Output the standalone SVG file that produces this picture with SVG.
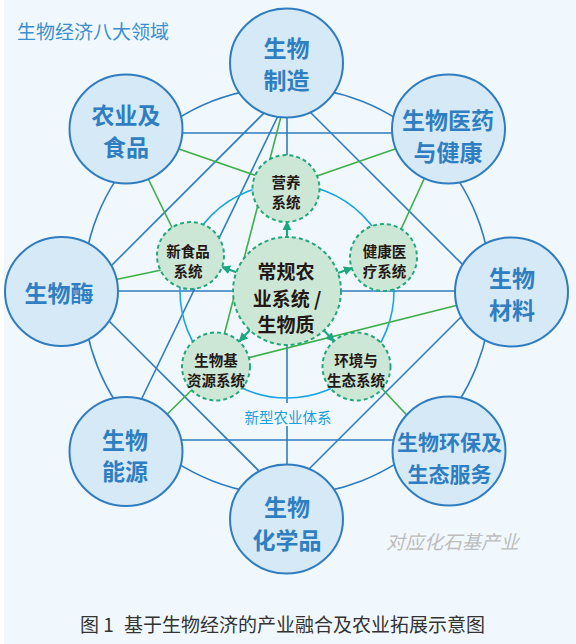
<svg xmlns="http://www.w3.org/2000/svg" width="576" height="644" viewBox="0 0 576 644">
<style>
text{font-family:"Noto Sans CJK SC","Noto Sans",sans-serif;dominant-baseline:central;text-anchor:middle}
.bl{stroke:#2F7DC0;stroke-width:1.6;fill:none}
.gr{stroke:#3DAF4A;stroke-width:1.6;fill:none}
.cy{stroke:#1AA5E2;stroke-width:1.6;fill:none}
.on{fill:#D6E9F6;stroke:#2F7DC0;stroke-width:2}
.ot{fill:#2F7EC1;font-size:23px;font-weight:bold}
.in{fill:#CDE7D6;stroke:#25A77B;stroke-width:2;stroke-dasharray:4 3}
.it{fill:#231815;font-size:14.5px;font-weight:bold}
.ar{stroke:#1BA880;stroke-width:2.2;fill:none;marker-end:url(#ah)}
</style>
<defs>
<marker id="ah" viewBox="0 0 10 10" refX="9" refY="5" markerUnits="userSpaceOnUse" markerWidth="9" markerHeight="9" orient="auto">
<path d="M0,0 L10,5 L0,10 z" fill="#1BA880"/>
</marker>
</defs>
<rect x="0" y="0" width="576" height="644" fill="#FFFFFF"/>
<rect x="4" y="0" width="572" height="644" fill="#F1F8FD"/>
<circle cx="287" cy="291" r="204" fill="#FFFFFF" class="bl" stroke-width="1.8"/>
<text x="17" y="30.5" style="text-anchor:start;font-size:19px;fill:#3A8FD0">生物经济八大领域</text>
<g id="connectors">
<line class="bl" x1="126" y1="133" x2="448" y2="133"/>
<line class="bl" x1="61" y1="291" x2="512" y2="291"/>
<line class="bl" x1="126" y1="440" x2="449" y2="440"/>
<line class="bl" x1="287" y1="63" x2="287" y2="403"/>
<line class="bl" x1="287" y1="426" x2="287" y2="519"/>
<line class="bl" x1="60" y1="317" x2="287" y2="90"/>
<line class="bl" x1="287" y1="89" x2="514" y2="316"/>
<line class="bl" x1="500" y1="278" x2="290" y2="488"/>
<line class="bl" x1="70" y1="282" x2="280" y2="492"/>
<line class="bl" x1="290.5" y1="90" x2="126.6" y2="430"/>
<circle class="cy" cx="287" cy="291" r="107"/>
<line class="gr" x1="150" y1="139" x2="286" y2="186"/>
<line class="gr" x1="424" y1="139" x2="288" y2="186"/>
<line class="gr" x1="135" y1="152" x2="187" y2="258"/>
<line class="gr" x1="436" y1="153" x2="386" y2="262"/>
<line class="gr" x1="90" y1="285" x2="190" y2="264"/>
<line class="gr" x1="284" y1="105" x2="216" y2="366"/>
<line class="gr" x1="490" y1="297" x2="216" y2="366"/>
<line class="gr" x1="140" y1="441" x2="216" y2="366"/>
<line class="gr" x1="357" y1="362" x2="432" y2="442"/>
<line class="ar" x1="287" y1="238" x2="287" y2="222"/>
<line class="ar" x1="236.4" y1="272.2" x2="222" y2="267"/>
<line class="ar" x1="338" y1="273" x2="352" y2="268"/>
<line class="ar" x1="250" y1="330" x2="239.4" y2="341.3"/>
<line class="ar" x1="324" y1="330.5" x2="334" y2="341.3"/>
</g>
<text x="288" y="416.5" style="font-size:14.5px;fill:#1AA0DE">新型农业体系</text>
<g id="n-zhizao"><ellipse class="on" cx="286.5" cy="63" rx="56.5" ry="54.5"/><text class="ot" x="286.5" y="47">生物</text><text class="ot" x="286.5" y="79">制造</text></g>
<g id="n-nongye"><ellipse class="on" cx="126" cy="129" rx="56.5" ry="54.5"/><text class="ot" x="126" y="114">农业及</text><text class="ot" x="126" y="146">食品</text></g>
<g id="n-yiyao"><ellipse class="on" cx="448.5" cy="129" rx="56.5" ry="54.5"/><text class="ot" x="448" y="118.5">生物医药</text><text class="ot" x="448" y="151">与健康</text></g>
<g id="n-mei"><ellipse class="on" cx="61.5" cy="291.5" rx="56.5" ry="54.5"/><text class="ot" x="59" y="291.5">生物酶</text></g>
<g id="n-cailiao"><ellipse class="on" cx="511.5" cy="292" rx="56.5" ry="54.5"/><text class="ot" x="512" y="276.5">生物</text><text class="ot" x="512" y="308.5">材料</text></g>
<g id="n-nengyuan"><ellipse class="on" cx="126" cy="451.5" rx="56.5" ry="54.5"/><text class="ot" x="125" y="438.5">生物</text><text class="ot" x="125" y="470">能源</text></g>
<g id="n-huaxue"><ellipse class="on" cx="286.5" cy="519" rx="56.5" ry="54.5"/><text class="ot" x="287" y="506">生物</text><text class="ot" x="287" y="538.5">化学品</text></g>
<g id="n-huanbao"><ellipse class="on" cx="449" cy="451" rx="56.5" ry="54.5"/><text class="ot" x="449.5" y="441" style="font-size:21px">生物环保及</text><text class="ot" x="449.5" y="473" style="font-size:21px">生态服务</text></g>
<g id="n-center"><circle class="in" cx="287" cy="291" r="54"/><text class="it" style="font-size:19px" x="286" y="270.5">常规农</text><text class="it" style="font-size:19px" x="287" y="297">业系统 /</text><text class="it" style="font-size:19px" x="286" y="323.5">生物质</text></g>
<g id="n-yingyang"><circle class="in" cx="286" cy="188.5" r="33.5"/><text class="it" x="286" y="181.5">营养</text><text class="it" x="286" y="201.5">系统</text></g>
<g id="n-xinshipin"><circle class="in" cx="190.5" cy="255.5" r="33.5"/><text class="it" x="188" y="250">新食品</text><text class="it" x="188" y="270">系统</text></g>
<g id="n-jiankang"><circle class="in" cx="383.5" cy="257.5" r="33.5"/><text class="it" x="384.5" y="250">健康医</text><text class="it" x="384.5" y="270">疗系统</text></g>
<g id="n-shengwuji"><circle class="in" cx="216" cy="366.5" r="34"/><text class="it" x="216" y="359">生物基</text><text class="it" x="216" y="379">资源系统</text></g>
<g id="n-huanjing"><circle class="in" cx="356.5" cy="366.5" r="34"/><text class="it" x="356" y="359.5">环境与</text><text class="it" x="356" y="379.5">生态系统</text></g>
<text x="452.5" y="540" style="font-size:19px;fill:#BDBDBD;font-style:italic">对应化石基产业</text>
<text y="623" style="text-anchor:start;font-size:19px;fill:#333333"><tspan x="80">图 1</tspan><tspan x="124">基于生物经济的产业融合及农业拓展示意图</tspan></text>
</svg>
